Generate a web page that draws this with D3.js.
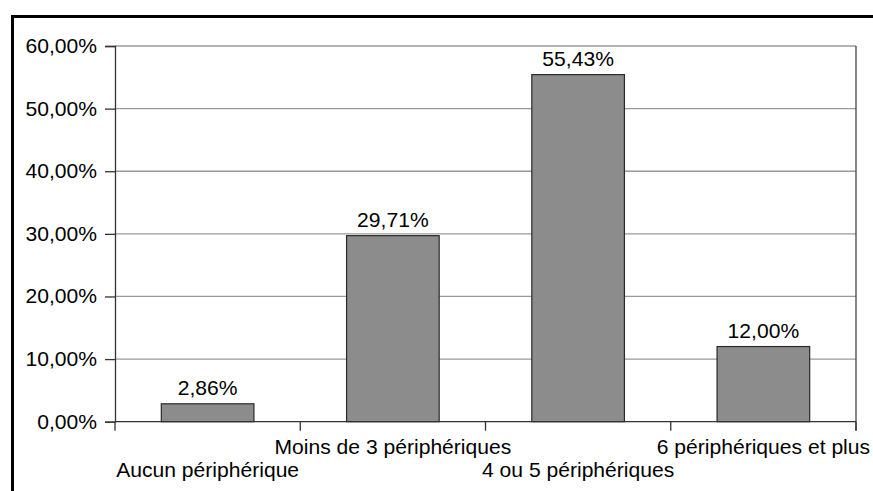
<!DOCTYPE html>
<html>
<head>
<meta charset="utf-8">
<script src="https://cdn.jsdelivr.net/npm/d3@7"></script>
<style>
  body { margin: 0; background: #fff; }
  svg { display: block; font-family: "Liberation Sans", Arial, sans-serif; }
</style>
</head>
<body>
<svg id="graph"></svg>
<script>
var categories = ["Aucun périphérique", "Moins de 3 périphériques", "4 ou 5 périphériques", "6 périphériques et plus"];
var values = [0.0286, 0.2971, 0.5543, 0.12];
var yTicks = [0, 0.1, 0.2, 0.3, 0.4, 0.5, 0.6];

var width = 873, height = 491;
var mLeft = 115, mRight = 856, mTop = 46, mBottom = 421.7;
var fs = 20, sx = 1.055;   // police légèrement étirée comme l'original

var fr = d3.formatLocale({decimal: ",", thousands: " ", grouping: [3], currency: ["", "€"]});
var pct = fr.format(".2%");

var svg = d3.select("#graph")
        .attr("width", width)
        .attr("height", height);

// cadre noir
svg.append("path")
   .attr("d", "M12.5," + height + "V16.5H" + width)
   .attr("fill", "none")
   .attr("stroke", "#000")
   .attr("stroke-width", 3);

var y = d3.scaleLinear()
        .domain([0, 0.6])
        .range([mBottom, mTop]);

var x = d3.scaleBand()
        .domain(categories)
        .range([mLeft, mRight])
        .paddingInner(0.5)
        .paddingOuter(0.25);

// grille
svg.selectAll("line.grid")
   .data(yTicks.filter(d => d > 0))
   .join("line")
   .attr("class", "grid")
   .attr("x1", mLeft)
   .attr("x2", mRight)
   .attr("y1", d => y(d))
   .attr("y2", d => y(d))
   .attr("stroke", "#9a9a9a")
   .attr("stroke-width", 1.3);

// bord droit
svg.append("line")
   .attr("x1", mRight).attr("x2", mRight)
   .attr("y1", mTop).attr("y2", mBottom + 9)
   .attr("stroke", "#444")
   .attr("stroke-width", 1.3);

// axe y
var yAxis = svg.append("g")
        .attr("transform", "translate(" + mLeft + ",0)")
        .call(d3.axisLeft(y).tickValues(yTicks).tickFormat(pct).tickSize(10).tickPadding(8));
yAxis.select(".domain").attr("stroke", "#333").attr("stroke-width", 1.3);
yAxis.selectAll(".tick line").attr("stroke", "#333").attr("stroke-width", 1.3);
yAxis.selectAll(".tick text")
     .attr("font-size", fs)
     .attr("font-family", "Liberation Sans, Arial, sans-serif")
     .attr("fill", "#000")
     .attr("transform", "translate(-18,0) scale(" + sx + ",1) translate(18,0)");

// barres
svg.selectAll("rect.bar")
   .data(values)
   .join("rect")
   .attr("class", "bar")
   .attr("x", (d, i) => x(categories[i]))
   .attr("y", d => y(d))
   .attr("width", x.bandwidth())
   .attr("height", d => y(0) - y(d))
   .attr("fill", "#8c8c8c")
   .attr("stroke", "#2a2a2a")
   .attr("stroke-width", 1.2);

// axe x
svg.append("line")
   .attr("x1", mLeft).attr("x2", mRight)
   .attr("y1", mBottom).attr("y2", mBottom)
   .attr("stroke", "#333")
   .attr("stroke-width", 1.3);

var step = x.step();
var bounds = d3.range(categories.length + 1).map(i => mLeft + i * step);
svg.selectAll("line.xtick")
   .data(bounds)
   .join("line")
   .attr("class", "xtick")
   .attr("x1", d => d).attr("x2", d => d)
   .attr("y1", mBottom).attr("y2", mBottom + 9)
   .attr("stroke", "#333")
   .attr("stroke-width", 1.3);

// étiquettes de catégories (décalées)
svg.selectAll("text.cat")
   .data(categories)
   .join("text")
   .attr("class", "cat")
   .attr("transform", (d, i) => "translate(" + (x(d) + x.bandwidth() / 2) + "," + (i % 2 == 0 ? 477 : 454) + ") scale(" + sx + ",1)")
   .attr("text-anchor", "middle")
   .attr("font-size", fs)
   .attr("fill", "#000")
   .text(d => d);

// valeurs
svg.selectAll("text.val")
   .data(values)
   .join("text")
   .attr("class", "val")
   .attr("transform", (d, i) => "translate(" + (x(categories[i]) + x.bandwidth() / 2) + "," + (y(d) - 9) + ") scale(" + sx + ",1)")
   .attr("text-anchor", "middle")
   .attr("font-size", fs)
   .attr("fill", "#000")
   .text(d => pct(d));
</script>
</body>
</html>
